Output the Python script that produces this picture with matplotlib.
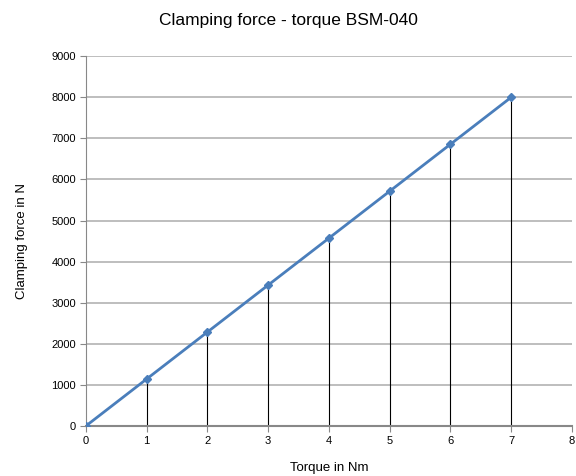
import numpy as np
import matplotlib
matplotlib.use("Agg")
import matplotlib.pyplot as plt

plt.rcParams['font.family'] = ['Liberation Sans', 'DejaVu Sans']

# values
torque = [0, 1, 2, 3, 4, 5, 6, 7]
force = [0, 1143, 2286, 3429, 4571, 5714, 6857, 8000]
x_ticks = [0, 1, 2, 3, 4, 5, 6, 7, 8]
y_ticks = [0, 1000, 2000, 3000, 4000, 5000, 6000, 7000, 8000, 9000]

fig = plt.figure(figsize=(5.76, 4.76), dpi=100)
ax = fig.add_axes([0.149, 0.105, 0.844, 0.777])

for yv in y_ticks[1:]:
    ax.axhline(yv, color='#b3b3b3', linewidth=1.2, zorder=1)

ax.vlines(torque, 0, force, colors='black', linewidth=0.8, zorder=2)
ax.plot(torque, force, color='#4a7ebb', linewidth=2, marker='D',
        markersize=4, zorder=3)

ax.set_xlim(0, 8)
ax.set_ylim(0, 9000)
ax.set_xticks(x_ticks)
ax.set_yticks(y_ticks)
ax.tick_params(axis='both', labelsize=8, color='#888888', length=4,
               width=0.8, pad=3)
for side in ['top', 'right']:
    ax.spines[side].set_visible(False)
ax.spines['left'].set_color('#888888')
ax.spines['bottom'].set_color('#888888')
ax.spines['bottom'].set_linewidth(1.5)

ax.set_xlabel('Torque in Nm', fontsize=9.5, labelpad=12)
ax.set_ylabel('Clamping force in N', fontsize=9.5, labelpad=17)
fig.text(0.5, 0.957, 'Clamping force - torque BSM-040', ha='center',
         va='center', fontsize=12.5)

fig.savefig('out.png', dpi=100)
